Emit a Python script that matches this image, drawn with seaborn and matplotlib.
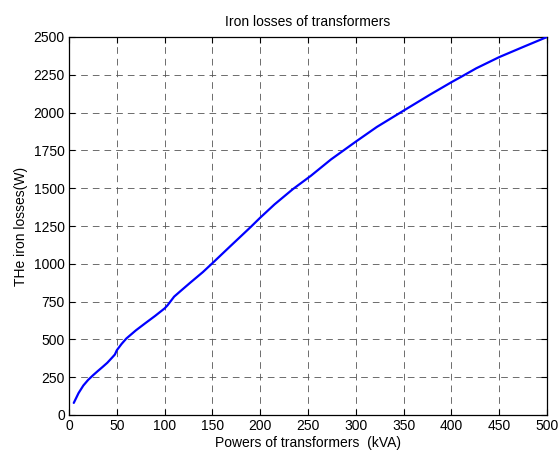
import matplotlib
matplotlib.use("Agg")
import matplotlib.pyplot as plt
import seaborn as sns
import pandas as pd

power_kva = [5, 10, 15, 20, 25, 30, 35, 40, 45, 48, 50, 55, 60, 70, 80, 90, 100, 103,
             110, 118, 127, 140, 150, 168, 190, 200, 215, 234, 253, 274, 300, 322,
             350, 378, 400, 412, 426, 450, 475, 500]
iron_loss_w = [80, 145, 195, 232, 262, 290, 317, 345, 379, 400, 428, 470, 506, 560,
               608, 655, 705, 725, 783, 827, 876, 945, 1004, 1112, 1243, 1305, 1393,
               1493, 1582, 1690, 1808, 1905, 2013, 2120, 2201, 2243, 2293, 2367, 2434, 2500]
x_ticks = [0, 50, 100, 150, 200, 250, 300, 350, 400, 450, 500]
y_ticks = [0, 250, 500, 750, 1000, 1250, 1500, 1750, 2000, 2250, 2500]

title = "Iron losses of transformers"
x_label = "Powers of transformers  (kVA)"
y_label = "THe iron losses(W)"

sns.set_theme(style="white")
plt.rcParams["font.family"] = ["Liberation Sans", "DejaVu Sans"]

df = pd.DataFrame({"power": power_kva, "loss": iron_loss_w})

W, H = 559, 451
fig = plt.figure(figsize=(W / 100, H / 100), dpi=100)
fig.patch.set_facecolor("white")
ax = fig.add_axes([69 / W, (H - 415) / H, (547 - 69) / W, (415 - 37) / H])

sns.lineplot(data=df, x="power", y="loss", ax=ax, color="#0000ff", linewidth=1.6,
             zorder=3)

ax.set_xlim(0, 500)
ax.set_ylim(0, 2500)
ax.set_xticks(x_ticks)
ax.set_yticks(y_ticks)
ax.set_xticklabels([str(v) for v in x_ticks], fontsize=10, color="black")
ax.set_yticklabels([str(v) for v in y_ticks], fontsize=10, color="black")
ax.tick_params(direction="in", length=4, width=0.8, color="black",
               top=True, right=True, bottom=True, left=True, pad=3)

ax.grid(True, color="#555555", linestyle=(0, (8, 6)), linewidth=0.6)
ax.set_axisbelow(True)
for sp in ax.spines.values():
    sp.set_visible(True)
    sp.set_color("black")
    sp.set_linewidth(0.9)

ax.set_title(title, fontsize=10, color="black", pad=8)
ax.set_xlabel(x_label, fontsize=10, color="black", labelpad=2)
ax.set_ylabel(y_label, fontsize=10, color="black", labelpad=4)

fig.savefig("out.png", dpi=100, facecolor="white")
